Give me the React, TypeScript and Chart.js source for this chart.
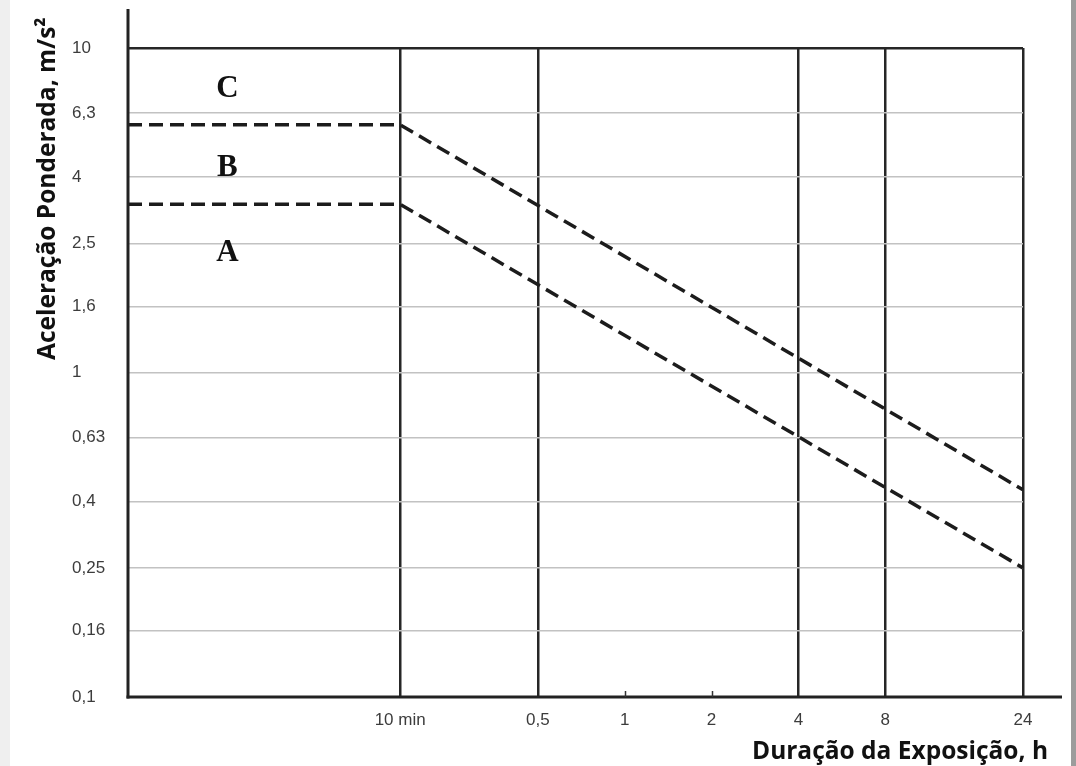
import React, { useEffect, useRef } from 'react';
import { Chart, registerables } from 'chart.js';

Chart.register(...registerables);

// ---- data ----
const X_TICKS = [1 / 6, 0.5, 1, 2, 4, 8, 24];
const X_TICK_LABELS = ['10 min', '0,5', '1', '2', '4', '8', '24'];
const X_GRID_HOURS = [1 / 6, 0.5, 4, 8, 24];
const X_MINOR_TICK_HOURS = [1, 2];
const X_MIN = 0.019;
const X_MAX = 24;

const Y_TICKS = [0.1, 0.16, 0.25, 0.4, 0.63, 1, 1.6, 2.5, 4, 6.3, 10];
const Y_TICK_LABELS = ['0,1', '0,16', '0,25', '0,4', '0,63', '1', '1,6', '2,5', '4', '6,3', '10'];
const Y_MIN = 0.1;
const Y_MAX = 10;

const BOUNDARY_HOURS = [X_MIN, 1 / 6, 24];
const UPPER_BOUNDARY = [5.8, 5.8, 0.435];
const LOWER_BOUNDARY = [3.3, 3.3, 0.25];

const ZONE_LABELS = ['A', 'B', 'C'];
const ZONE_Y = [2.37, 4.33, 7.58];
const ZONE_X = 0.042;

const Y_TITLE = 'Aceleração Ponderada, m/s²';
const X_TITLE = 'Duração da Exposição, h';

const near = (a: number, b: number) => Math.abs(a - b) < 1e-9;

const decorPlugin = {
  id: 'decor',
  beforeDraw(chart: any) {
    const { ctx, width, height } = chart;
    ctx.save();
    ctx.fillStyle = '#ffffff';
    ctx.fillRect(0, 0, width, height);
    ctx.fillStyle = '#efefef';
    ctx.fillRect(0, 0, 10, height);
    ctx.fillStyle = '#9c9c9c';
    ctx.fillRect(width - 5, 0, 5, height);
    ctx.restore();
  },
  afterDraw(chart: any) {
    const { ctx, chartArea } = chart;
    const xs = chart.scales.x;
    const ys = chart.scales.y;
    ctx.save();
    // axis lines
    ctx.strokeStyle = '#222222';
    ctx.lineWidth = 3;
    ctx.lineCap = 'butt';
    ctx.beginPath();
    ctx.moveTo(chartArea.left, 9);
    ctx.lineTo(chartArea.left, chartArea.bottom + 1.5);
    ctx.stroke();
    ctx.beginPath();
    ctx.moveTo(chartArea.left - 1.5, chartArea.bottom);
    ctx.lineTo(1062, chartArea.bottom);
    ctx.stroke();
    // minor tick marks
    ctx.lineWidth = 1.5;
    ctx.strokeStyle = '#333333';
    X_MINOR_TICK_HOURS.forEach((h) => {
      const px = Math.round(xs.getPixelForValue(h)) + 0.5;
      ctx.beginPath();
      ctx.moveTo(px, chartArea.bottom - 6);
      ctx.lineTo(px, chartArea.bottom);
      ctx.stroke();
    });
    // zone labels
    ctx.fillStyle = '#111111';
    ctx.font = 'bold 31px "Liberation Serif", "DejaVu Serif", serif';
    ctx.textAlign = 'center';
    ctx.textBaseline = 'alphabetic';
    ZONE_LABELS.forEach((lab, i) => {
      const px = xs.getPixelForValue(ZONE_X);
      const py = ys.getPixelForValue(ZONE_Y[i]);
      ctx.fillText(lab, px, py + 10);
    });
    // titles
    ctx.font = 'bold 24.5px "Open Sans", "Noto Sans", sans-serif';
    ctx.fillStyle = '#111111';
    ctx.textAlign = 'left';
    ctx.fillText(X_TITLE, 752, 759);
    ctx.translate(55, 360);
    ctx.rotate(-Math.PI / 2);
    ctx.fillText(Y_TITLE, 0, 0);
    ctx.restore();
  },
};

export default function App() {
  const ref = useRef<HTMLCanvasElement | null>(null);

  useEffect(() => {
    document.body.style.margin = '0';
    const canvas = ref.current;
    if (!canvas) return;
    const lineStyle = {
      borderColor: '#1c1c1c',
      borderWidth: 3.5,
      borderDash: [14, 7],
      pointRadius: 0,
      fill: false,
      tension: 0,
      clip: 6,
    };
    const chart = new Chart(canvas, {
      type: 'line',
      data: {
        datasets: [
          {
            label: 'B/C',
            data: BOUNDARY_HOURS.map((h, i) => ({ x: h, y: UPPER_BOUNDARY[i] })),
            ...lineStyle,
          },
          {
            label: 'A/B',
            data: BOUNDARY_HOURS.map((h, i) => ({ x: h, y: LOWER_BOUNDARY[i] })),
            ...lineStyle,
          },
        ] as any,
      },
      options: {
        responsive: false,
        animation: false,
        devicePixelRatio: 1,
        layout: { padding: { left: 72, top: 48, right: 53, bottom: 0 } },
        plugins: {
          legend: { display: false },
          tooltip: { enabled: false },
          title: { display: false },
        },
        scales: {
          x: {
            type: 'logarithmic',
            min: X_MIN,
            max: X_MAX,
            afterBuildTicks: (s: any) => {
              s.ticks = X_TICKS.map((v) => ({ value: v }));
            },
            afterFit: (s: any) => {
              s.height = 69;
            },
            border: { display: false },
            grid: {
              drawTicks: false,
              color: (c: any) =>
                c.tick && X_GRID_HOURS.some((h) => near(h, c.tick.value)) ? '#262626' : 'rgba(0,0,0,0)',
              lineWidth: 2.5,
            },
            ticks: {
              autoSkip: false,
              maxRotation: 0,
              minRotation: 0,
              padding: 13,
              color: '#3c3c3c',
              font: { family: '"Liberation Sans", Arial, sans-serif', size: 17 },
              callback: (_v: any, i: number) => X_TICK_LABELS[i],
            },
          },
          y: {
            type: 'logarithmic',
            min: Y_MIN,
            max: Y_MAX,
            afterBuildTicks: (s: any) => {
              s.ticks = Y_TICKS.map((v) => ({ value: v }));
            },
            afterFit: (s: any) => {
              s.width = 56;
            },
            border: { display: false },
            grid: {
              drawTicks: false,
              color: (c: any) => (c.tick && near(c.tick.value, Y_MAX) ? '#262626' : '#c2c2c2'),
              lineWidth: (c: any) => (c.tick && near(c.tick.value, Y_MAX) ? 2.5 : 1.5),
            },
            ticks: {
              autoSkip: false,
              crossAlign: 'far',
              padding: 0,
              color: '#3c3c3c',
              font: { family: '"Liberation Sans", Arial, sans-serif', size: 17 },
              callback: (_v: any, i: number) => Y_TICK_LABELS[i],
            },
          },
        },
      } as any,
      plugins: [decorPlugin],
    });
    return () => chart.destroy();
  }, []);

  return (
    <div style={{ width: 1076, height: 766 }}>
      <canvas ref={ref} width={1076} height={766} style={{ display: 'block' }} />
    </div>
  );
}
